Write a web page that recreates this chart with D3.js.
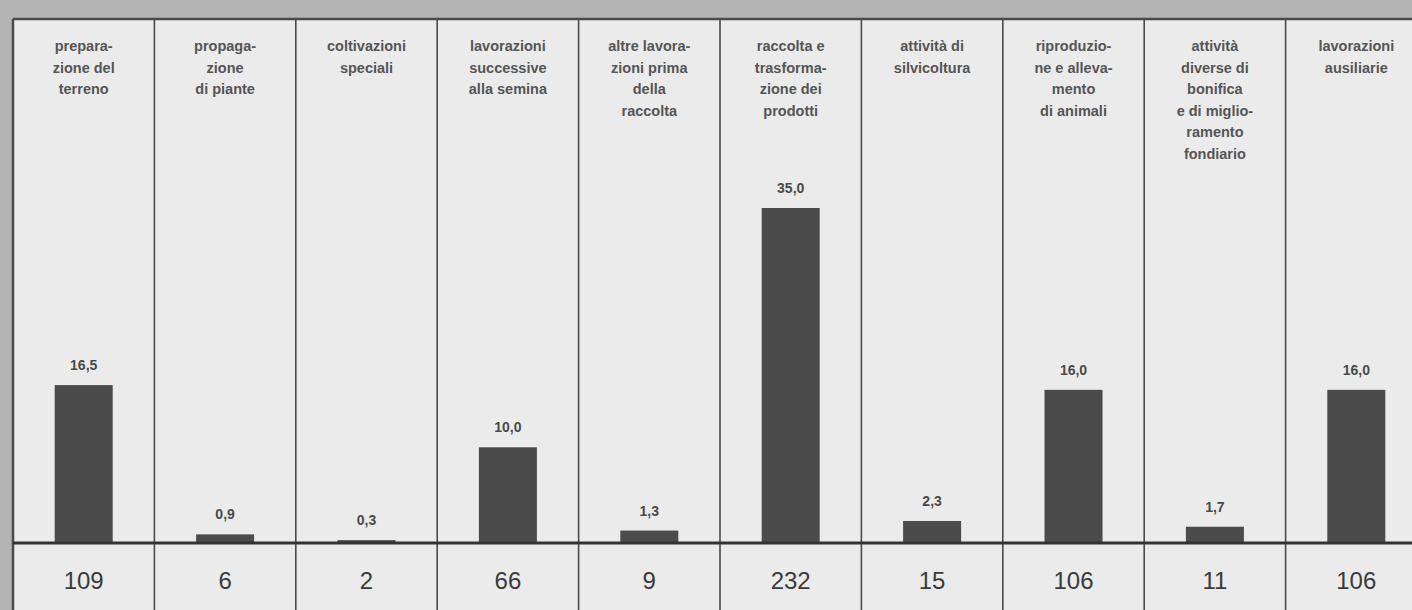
<!DOCTYPE html>
<html>
<head>
<meta charset="utf-8">
<script src="https://cdn.jsdelivr.net/npm/d3@7"></script>
<style>
  html, body { margin: 0; padding: 0; background: #b4b4b4; }
  svg { display: block; }
</style>
</head>
<body>
<svg id="chart" width="1412" height="610"></svg>
<script>
// ---- data ----
const categories = [
  "preparazione del terreno",
  "propagazione di piante",
  "coltivazioni speciali",
  "lavorazioni successive alla semina",
  "altre lavorazioni prima della raccolta",
  "raccolta e trasformazione dei prodotti",
  "attività di silvicoltura",
  "riproduzione e allevamento di animali",
  "attività diverse di bonifica e di miglioramento fondiario",
  "lavorazioni ausiliarie"
];
const headerLines = [
  ["prepara-", "zione del", "terreno"],
  ["propaga-", "zione", "di piante"],
  ["coltivazioni", "speciali"],
  ["lavorazioni", "successive", "alla semina"],
  ["altre lavora-", "zioni prima", "della", "raccolta"],
  ["raccolta e", "trasforma-", "zione dei", "prodotti"],
  ["attività di", "silvicoltura"],
  ["riproduzio-", "ne e alleva-", "mento", "di animali"],
  ["attività", "diverse di", "bonifica", "e di miglio-", "ramento", "fondiario"],
  ["lavorazioni", "ausiliarie"]
];
const percentValues = [16.5, 0.9, 0.3, 10.0, 1.3, 35.0, 2.3, 16.0, 1.7, 16.0];
const countValues = [109, 6, 2, 66, 9, 232, 15, 106, 11, 106];
const yDomain = [0, 35];

// ---- layout ----
const W = 1412, H = 610;
const panelLeft = 13, panelTop = 19, colW = 141.4;
const baseY = 543, topY = 208;
const barW = 58;

const svg = d3.select("#chart");

const x = d3.scaleBand()
  .domain(categories)
  .range([panelLeft, panelLeft + colW * categories.length])
  .padding(0);
const y = d3.scaleLinear().domain(yDomain).range([baseY, topY]);

const fmt = v => d3.format(".1f")(v).replace(".", ",");

// background strip & panel
svg.append("rect").attr("x", 0).attr("y", 0).attr("width", W).attr("height", H).attr("fill", "#b4b4b4");
svg.append("rect").attr("x", panelLeft).attr("y", panelTop).attr("width", W - panelLeft).attr("height", H - panelTop)
  .attr("fill", "#ebebeb");

// column separators
const bounds = categories.map(c => x(c)).concat([x(categories[categories.length - 1]) + x.bandwidth()]);
svg.append("g").selectAll("line").data(bounds).join("line")
  .attr("x1", d => d).attr("x2", d => d)
  .attr("y1", panelTop).attr("y2", H)
  .attr("stroke", "#4a4a4a").attr("stroke-width", d => d === panelLeft ? 2.5 : 1.6);

// top border
svg.append("line").attr("x1", panelLeft).attr("x2", W).attr("y1", panelTop).attr("y2", panelTop)
  .attr("stroke", "#4a4a4a").attr("stroke-width", 2.5);

// headers
const hdr = svg.append("g")
  .attr("font-family", "'Liberation Sans', Arial, Helvetica, sans-serif")
  .attr("font-weight", "bold").attr("font-size", 14.5).attr("fill", "#555")
  .attr("text-anchor", "middle");
categories.forEach((c, i) => {
  const t = hdr.append("text").attr("x", x(c) + x.bandwidth() / 2).attr("y", 51);
  headerLines[i].forEach((ln, j) => {
    t.append("tspan").attr("x", x(c) + x.bandwidth() / 2).attr("dy", j === 0 ? 0 : 21.5).text(ln);
  });
});

// bars
svg.append("g").selectAll("rect").data(percentValues).join("rect")
  .attr("x", (d, i) => x(categories[i]) + (x.bandwidth() - barW) / 2)
  .attr("y", d => y(d))
  .attr("width", barW)
  .attr("height", d => y(0) - y(d))
  .attr("fill", "#4b4b4b");

// value labels
svg.append("g").selectAll("text").data(percentValues).join("text")
  .attr("x", (d, i) => x(categories[i]) + x.bandwidth() / 2)
  .attr("y", d => y(d) - 15)
  .attr("text-anchor", "middle")
  .attr("font-family", "'Liberation Sans', Arial, Helvetica, sans-serif")
  .attr("font-weight", "bold").attr("font-size", 14).attr("fill", "#4a4a4a")
  .text(d => fmt(d));

// baseline
svg.append("line").attr("x1", panelLeft).attr("x2", W).attr("y1", baseY).attr("y2", baseY)
  .attr("stroke", "#333").attr("stroke-width", 3);

// bottom numbers
svg.append("g").selectAll("text").data(countValues).join("text")
  .attr("x", (d, i) => x(categories[i]) + x.bandwidth() / 2)
  .attr("y", 589)
  .attr("text-anchor", "middle")
  .attr("font-family", "'Liberation Sans', Arial, Helvetica, sans-serif")
  .attr("font-size", 24).attr("fill", "#3a3a3a")
  .text(d => d);
</script>
</body>
</html>
